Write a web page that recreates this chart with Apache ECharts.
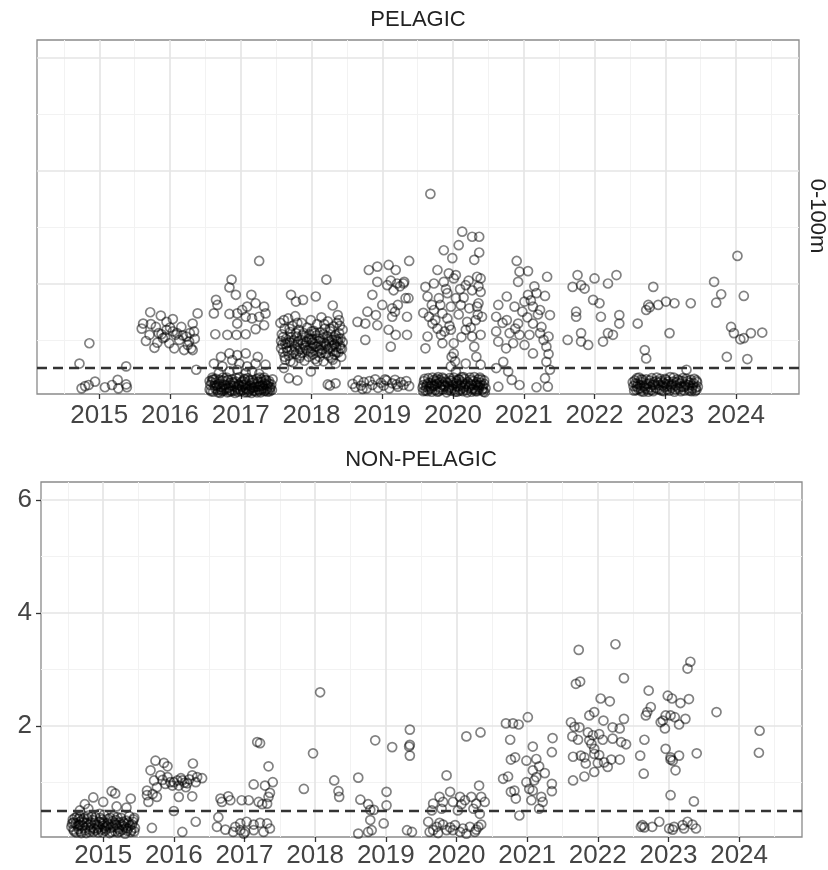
<!DOCTYPE html>
<html>
<head>
<meta charset="utf-8">
<script src="https://cdn.jsdelivr.net/npm/echarts@6/dist/echarts.min.js"></script>
<style>html,body{margin:0;padding:0;background:#fff}#c{width:828px;height:870px}</style>
</head>
<body>
<div id="c"></div>
<script>
// ---------- DATA ----------
const years = [2015, 2016, 2017, 2018, 2019, 2020, 2021, 2022, 2023, 2024];
const yTickLabels = [2, 4, 6];
const yGridValues = [1, 2, 3, 4, 5, 6];
const threshold = 0.5;
const panelTitles = ['PELAGIC', 'NON-PELAGIC'];
const stripLabel = '0-100m';

// Each point: [offset from year (jitter), value]
const pel2015 = [[-.14,.94],[-.28,.58],[.38,.53],[-.25,.14],[-.15,.20],[-.06,.26],[.08,.16],[.18,.20],[.26,.29],[.27,.14],[.39,.16],[.38,.21],[-.20,.18]];
const pel2016 = [[-.28,1.49],[-.13,1.43],[.04,1.37],[.39,1.47],[-.38,1.29],[-.27,1.28],[-.16,1.12],[-.05,1.18],[.04,1.15],[.16,1.23],[.32,1.29],[.34,1.15],[-.34,.98],[-.22,.86],[-.10,1.03],[-.01,.94],[.06,.85],[.20,.82],[.30,.85],[.37,.47],[-.20,1.23],[-.05,1.32],[.23,1.06],[.13,1.00],[-.29,1.09],[.08,1.09],[.25,.91],[.32,.82],[-.12,1.10],[-.07,1.05],[.10,1.12],[.18,1.08],[.28,1.12],[.35,1.02],[-.40,1.20],[-.18,.95],[0,1.22],[.27,.97]];
const pel2017 = [[.26,2.40],[-.13,2.07],[-.16,1.93],[-.07,1.80],[.15,1.80],[-.35,1.71],[-.33,1.62],[-.38,1.47],[-.16,1.46],[-.05,1.47],[.02,1.53],[.09,1.59],[.21,1.65],[.33,1.59],[.35,1.47],[.26,1.41],[.16,1.38],[.07,1.41],[-.05,1.29],[.33,1.26],[.21,1.19],[-.36,1.10],[-.19,1.09],[-.06,1.09],[.07,1.10],[-.28,.70],[-.16,.76],[-.05,.73],[.07,.76],[.24,.70],[-.38,.58],[-.26,.53],[-.12,.64],[-.02,.58],[.09,.53],[.21,.58],[.35,.56],[-.31,.41],[-.16,.44],[-.05,.47],[.07,.41],[.16,.44],[.26,.40],[-.40,.29],
[-.44,.12],[-.41,.25],[-.39,.08],[-.37,.19],[-.35,.31],[-.33,.11],[-.31,.22],[-.29,.06],[-.27,.16],[-.26,.28],[-.24,.10],[-.22,.20],[-.20,.33],[-.19,.07],[-.17,.15],[-.15,.24],[-.13,.09],[-.12,.30],[-.10,.18],[-.08,.06],[-.07,.26],[-.05,.13],[-.03,.21],[-.02,.34],[0,.09],[.02,.17],[.03,.27],[.05,.07],[.07,.14],[.08,.23],[.10,.32],[.12,.11],[.13,.19],[.15,.06],[.17,.28],[.18,.15],[.20,.09],[.22,.22],[.23,.31],[.25,.12],[.27,.18],[.28,.07],[.30,.25],[.32,.14],[.33,.33],[.35,.10],[.37,.20],[.38,.08],[.40,.27],[.42,.16],[.44,.11],[-.43,.20],[-.36,.14],[-.30,.29],[-.23,.13],[-.16,.08],[-.09,.23],[-.01,.12],[.06,.30],[.11,.08],[.19,.25],[.26,.10],[.34,.22],[.41,.13],[-.40,.33],[-.28,.12],[-.14,.19],[.04,.20],[.16,.16],[.29,.30],[.39,.18],[-.21,.27],[-.06,.16],[.09,.12],[.24,.17],[.36,.28],
[-.44,.27],[-.42,.09],[-.38,.30],[-.34,.19],[-.32,.07],[-.29,.17],[-.25,.33],[-.24,.21],[-.20,.14],[-.18,.29],[-.15,.11],[-.11,.25],[-.09,.10],[-.06,.32],[-.04,.08],[-.02,.19],[.01,.25],[.03,.11],[.05,.31],[.07,.20],[.09,.07],[.12,.28],[.14,.14],[.16,.24],[.18,.10],[.21,.17],[.23,.07],[.25,.26],[.27,.33],[.29,.12],[.31,.19],[.33,.09],[.35,.29],[.37,.13],[.39,.23],[.41,.09],[.43,.21],[.45,.30],[-.36,.24],[-.27,.09]];
const pel2018 = [[.21,2.07],[-.29,1.80],[-.22,1.68],[-.12,1.71],[.06,1.77],[.30,1.61],[.37,1.44],[.39,1.35],[-.39,1.35],[.34,.23],[.23,.21],[.26,.19],[-.32,.32],[-.20,.28],[-.39,.50],[-.01,.44],[.34,.58],
[-.44,1.30],[-.42,1.10],[-.41,.92],[-.40,.78],[-.38,1.20],[-.37,.65],[-.36,1.02],[-.35,.86],[-.33,1.38],[-.32,.72],[-.31,.96],[-.30,1.14],[-.28,.82],[-.27,1.25],[-.26,.60],[-.25,.99],[-.24,.88],[-.23,1.42],[-.22,.75],[-.21,1.06],[-.20,.92],[-.18,1.18],[-.17,.68],[-.16,.84],[-.15,1.00],[-.14,1.30],[-.13,.77],[-.12,.94],[-.11,1.12],[-.10,.63],[-.09,.86],[-.08,1.05],[-.07,.97],[-.06,1.22],[-.05,.80],[-.04,.70],[-.03,1.10],[-.02,.90],[-.01,1.35],[0,.85],[.01,1.02],[.02,.74],[.03,1.16],[.04,.93],[.05,.66],[.06,.88],[.07,1.08],[.08,1.28],[.09,.79],[.10,.98],[.11,.70],[.12,1.13],[.13,.90],[.14,1.40],[.15,.83],[.16,1.03],[.17,.62],[.18,.95],[.19,1.20],[.20,.76],[.21,.89],[.22,1.07],[.23,1.33],[.24,.72],[.25,.97],[.26,.85],[.27,1.15],[.28,.68],[.29,1.00],[.30,.80],[.31,1.24],[.32,.92],[.33,.74],[.34,1.08],[.35,.87],[.36,1.30],[.37,.97],[.38,.78],[.39,1.12],[.40,.90],[.41,1.02],[.42,.70],[.43,.84],[.44,1.18],[-.43,.98],[-.34,.95],[-.19,.80],[-.29,1.05],[0,1.00],[.12,.82],[.24,1.02],[.35,1.00],
[-.43,.85],[-.40,1.05],[-.37,.93],[-.34,.80],[-.31,1.20],[-.28,.95],[-.25,.78],[-.22,1.12],[-.19,.97],[-.16,.72],[-.13,1.08],[-.10,.90],[-.07,.82],[-.04,1.02],[-.01,.78],[.02,.95],[.05,1.12],[.08,.88],[.11,1.02],[.14,.77],[.17,1.10],[.20,.93],[.23,.84],[.26,1.20],[.29,.90],[.32,1.05],[.35,.78],[.38,1.02],[.41,.85],[.44,.96],[-.38,.70],[-.20,1.30],[0,1.15],[.18,1.28],[.40,1.25],[-.30,.62],[.08,.62],[.30,.65]];
const pel2019 = [[.38,2.40],[-.19,2.24],[-.07,2.30],[.09,2.33],[.19,2.24],[-.07,2.03],[.07,1.97],[.21,2.00],[.31,2.03],[-.14,1.80],[.16,1.88],[.33,1.74],[0,1.62],[.14,1.56],[-.21,1.50],[-.09,1.44],[-.35,1.32],[-.24,1.29],[-.07,1.26],[.09,1.18],[.35,1.41],[.19,1.09],[-.24,1.00],[.12,.88],[.14,1.41],[.30,2.00],[.37,1.74],[.35,1.09],[.18,1.50],[.22,1.62],[.25,1.95],[.12,2.05],
[-.42,.22],[-.38,.16],[-.34,.28],[-.30,.19],[-.26,.25],[-.22,.14],[-.18,.27],[-.14,.20],[-.10,.30],[-.06,.15],[-.02,.24],[.02,.19],[.06,.28],[.10,.14],[.14,.23],[.18,.29],[.22,.17],[.26,.25],[.30,.20],[.34,.27],[.38,.18],[.04,.30],[-.28,.13],[.20,.21]];
const pel2020 = [[-.32,3.59],[.13,2.92],[.27,2.83],[.37,2.83],[.08,2.68],[-.13,2.59],[-.01,2.45],[.30,2.42],[-.22,2.24],[-.06,2.18],[.04,2.15],[.34,2.12],[.39,2.09],[-.39,1.94],[-.27,2.0],[-.13,2.03],[.01,2.09],[.18,1.97],[.27,1.88],[.39,1.85],[-.36,1.77],[-.20,1.74],[-.08,1.83],[.04,1.74],[-.27,1.53],[-.15,1.47],[-.03,1.59],[.11,1.62],[.23,1.56],[.34,1.59],[-.34,1.41],[-.29,1.29],[-.08,1.38],[.20,1.32],[.32,1.35],[.41,1.41],[-.22,1.20],[-.03,1.18],[.18,1.18],[.39,1.09],[-.36,1.06],[-.17,1.09],[.27,1.06],[-.15,.94],[.01,.94],[-.39,.85],[.30,.88],[.01,.76],[.18,.58],[.39,.56],[-.03,.53],[.04,.44],[-.10,1.90],[-.18,1.62],[.08,1.45],[.15,1.75],[-.25,1.35],[.25,1.22],[.36,1.95],[.36,1.65],[-.05,1.25],[.12,1.05],[-.30,1.62],[.22,2.05],[-.12,1.15],[.35,1.45],[.10,1.90],[-.02,.70],[.03,.62],[-.42,1.48],[.33,.70],[.37,2.55],
[-.43,.15],[-.41,.27],[-.39,.10],[-.37,.21],[-.35,.32],[-.34,.13],[-.32,.24],[-.30,.08],[-.28,.18],[-.27,.29],[-.25,.11],[-.23,.22],[-.21,.34],[-.20,.09],[-.18,.16],[-.16,.26],[-.14,.12],[-.13,.31],[-.11,.19],[-.09,.07],[-.08,.24],[-.06,.14],[-.04,.28],[-.03,.10],[-.01,.20],[.01,.33],[.02,.12],[.04,.23],[.06,.08],[.07,.17],[.09,.29],[.11,.13],[.12,.22],[.14,.09],[.16,.31],[.17,.18],[.19,.11],[.21,.25],[.22,.15],[.24,.33],[.26,.08],[.27,.20],[.29,.27],[.31,.12],[.32,.21],[.34,.09],[.36,.30],[.37,.16],[.39,.24],[.41,.11],[.42,.19],[.44,.28],[.46,.14],[-.42,.20],[-.33,.17],[-.24,.27],[-.15,.20],[-.05,.17],[.05,.27],[.15,.15],[.25,.22],[.35,.19],[.43,.08],[-.36,.09],[-.19,.24],[-.02,.27],[.10,.19],[.28,.14],[.38,.33],
[-.42,.09],[-.40,.31],[-.38,.17],[-.35,.24],[-.31,.14],[-.29,.33],[-.26,.19],[-.22,.08],[-.19,.29],[-.17,.12],[-.15,.33],[-.12,.17],[-.10,.26],[-.07,.11],[-.05,.32],[-.02,.14],[0,.24],[.03,.08],[.05,.18],[.08,.30],[.10,.10],[.13,.25],[.15,.34],[.18,.22],[.20,.07],[.23,.18],[.25,.29],[.27,.12],[.30,.34],[.32,.09],[.34,.25],[.36,.12],[.38,.20],[.40,.30],[.42,.13],[.44,.22],[.45,.07],[-.30,.21],[.12,.34],[-.23,.31]];
const pel2021 = [[-.10,2.40],[-.06,2.21],[.06,2.22],[-.08,2.03],[.33,2.12],[-.24,1.77],[-.36,1.62],[-.13,1.59],[.06,1.80],[.18,1.83],[.30,1.78],[.01,1.68],[.13,1.59],[.23,1.53],[.37,1.44],[-.39,1.41],[-.24,1.35],[-.08,1.29],[.13,1.29],[.25,1.23],[-.39,1.15],[-.20,1.12],[-.06,1.09],[.08,1.09],[.23,1.12],[.35,1.06],[-.36,.97],[-.15,.94],[.01,.91],[.13,.76],[.32,.88],[-.29,.61],[-.22,.44],[.32,.61],[.37,.47],[-.39,.50],[-.17,.29],[-.06,.20],[-.36,.17],[.18,.16],[.34,.17],[.30,.32],[.10,1.70],[.20,1.45],[-.02,1.50],[.15,1.95],[-.30,1.30],[.28,1.00],[-.12,1.20],[.05,1.40],[.35,.75],[-.25,.85]];
const pel2022 = [[-.24,2.15],[0,2.09],[.31,2.15],[-.31,1.94],[-.19,1.97],[-.14,1.91],[.19,2.0],[-.02,1.71],[.07,1.65],[-.26,1.50],[-.26,1.41],[.09,1.41],[.35,1.44],[.35,1.29],[-.38,1.00],[-.19,1.12],[-.19,.97],[-.09,.91],[.12,.97],[.19,1.12],[.26,1.09]];
const pel2023 = [[-.17,1.94],[-.24,1.62],[-.27,1.53],[-.10,1.62],[.01,1.68],[.13,1.65],[.36,1.65],[-.39,1.29],[.06,1.12],[-.29,.82],[-.27,.67],[.30,.47],[-.22,1.58],
[-.45,.18],[-.43,.28],[-.41,.11],[-.39,.22],[-.37,.33],[-.35,.14],[-.33,.25],[-.31,.08],[-.29,.19],[-.27,.30],[-.25,.12],[-.23,.23],[-.21,.16],[-.19,.32],[-.17,.09],[-.15,.21],[-.13,.27],[-.11,.13],[-.09,.20],[-.07,.31],[-.05,.10],[-.03,.24],[-.01,.16],[.01,.29],[.03,.12],[.05,.22],[.07,.34],[.09,.15],[.11,.26],[.13,.08],[.15,.19],[.17,.30],[.19,.13],[.21,.23],[.23,.17],[.25,.32],[.27,.10],[.29,.21],[.31,.27],[.33,.14],[.35,.24],[.37,.09],[.39,.19],[.41,.31],[.43,.15],[.45,.25],[-.40,.17],[-.28,.14],[-.16,.25],[-.04,.19],[.08,.18],[.20,.28],[.32,.20],[.44,.11],[-.34,.30],[0,.22],[.26,.16],
[-.44,.10],[-.42,.23],[-.40,.32],[-.38,.13],[-.36,.20],[-.34,.09],[-.32,.29],[-.30,.17],[-.26,.22],[-.24,.08],[-.22,.28],[-.20,.11],[-.18,.20],[-.14,.15],[-.12,.33],[-.10,.24],[-.08,.12],[-.06,.27],[-.02,.09],[0,.31],[.02,.18],[.04,.26],[.06,.10],[.10,.21],[.12,.33],[.14,.12],[.16,.25],[.18,.16],[.22,.09],[.24,.27],[.28,.18],[.30,.31],[.34,.10],[.36,.29],[.38,.14],[.40,.23],[.42,.09],[.44,.28],[.46,.17],[-.46,.25]];
const pel2024 = [[.02,2.49],[-.31,2.03],[-.21,1.81],[-.28,1.66],[.11,1.78],[-.07,1.23],[-.03,1.12],[.06,1.01],[.11,1.03],[.21,1.12],[.37,1.13],[-.13,.70],[.16,.66]];

const np2015 = [[-.14,.74],[0,.66],[.12,.85],[.17,.81],[.39,.72],[-.26,.62],[-.33,.51],[.19,.58],[.33,.56],[-.21,.54],[-.05,.45],[-.35,.36],
[-.45,.22],[-.43,.35],[-.41,.14],[-.39,.28],[-.37,.40],[-.35,.18],[-.33,.31],[-.31,.11],[-.29,.24],[-.27,.37],[-.25,.16],[-.23,.29],[-.21,.42],[-.19,.13],[-.17,.21],[-.15,.34],[-.13,.19],[-.11,.39],[-.09,.26],[-.07,.12],[-.05,.31],[-.03,.17],[-.01,.27],[.01,.43],[.03,.15],[.05,.23],[.07,.36],[.09,.11],[.11,.20],[.13,.32],[.15,.41],[.17,.14],[.19,.25],[.21,.12],[.23,.30],[.25,.38],[.27,.17],[.29,.23],[.31,.10],[.33,.33],[.35,.19],[.37,.41],[.39,.13],[.41,.26],[.43,.35],[.45,.20],[-.42,.30],[-.34,.25],[-.26,.20],[-.18,.30],[-.10,.16],[-.02,.35],[.06,.28],[.14,.22],[.22,.18],[.30,.28],[.38,.24],[.44,.14],[-.38,.12],[-.22,.36],[-.06,.22],[.10,.38],[.26,.26],[.42,.31],[-.30,.34],[.02,.20],[.18,.34],[.34,.15],
[-.44,.28],[-.42,.17],[-.40,.38],[-.36,.23],[-.32,.14],[-.28,.30],[-.24,.11],[-.20,.25],[-.16,.40],[-.14,.13],[-.12,.29],[-.08,.19],[-.04,.38],[-.01,.12],[.01,.30],[.04,.18],[.08,.26],[.12,.13],[.16,.29],[.20,.39],[.24,.14],[.28,.31],[.32,.20],[.36,.30],[.40,.16],[.44,.38],[-.33,.40],[0,.24],[.20,.21],[-.18,.17]];
const np2016 = [[-.26,1.39],[-.14,1.35],[-.09,1.29],[.27,1.34],[-.33,1.22],[-.19,1.13],[-.09,1.10],[0,1.01],[.12,1.04],[.26,1.13],[.40,1.08],[-.28,1.04],[-.12,.98],[.07,.95],[.19,.99],[.31,1.01],[-.38,.86],[-.38,.78],[-.24,.75],[.07,.75],[.26,.76],[-.36,.66],[0,.50],[.31,.31],[-.31,.20],[.12,.13],[-.05,1.01],[.05,1.04],[.17,.92],[-.24,.92],[-.16,1.05],[.22,1.06],[.33,1.10],[-.02,.95],[.10,1.08],[-.30,.80],[.15,1.00]];
const np2017 = [[.18,1.72],[.22,1.70],[.34,1.29],[.13,.97],[.29,.95],[.40,1.01],[.36,.82],[.34,.75],[-.34,.72],[-.23,.76],[-.20,.69],[-.32,.66],[-.04,.69],[.06,.69],[.20,.66],[.25,.62],[.32,.63],[-.37,.39],[-.39,.22],[-.27,.17],[-.13,.22],[-.06,.28],[.03,.31],[-.06,.16],[.01,.13],[.13,.26],[.22,.29],[.32,.28],[.36,.19],[.27,.13],[.13,.16],[-.16,.13],[-.01,.10]];
const np2018 = [[.07,2.60],[-.03,1.52],[-.16,.89],[.27,1.04],[.33,.85],[.34,.75]];
const np2019 = [[.34,1.94],[.34,1.67],[.33,1.64],[.34,1.48],[-.15,1.75],[.09,1.63],[-.39,1.09],[.01,.84],[-.36,.70],[-.25,.62],[-.17,.52],[.01,.60],[-.22,.34],[-.03,.28],[-.39,.10],[-.25,.13],[-.20,.16],[.30,.16],[.37,.13],[-.22,.52]];
const np2020 = [[-.14,1.13],[.14,1.82],[.34,1.89],[.32,.95],[-.24,.75],[-.09,.84],[.05,.75],[.12,.69],[.21,.75],[.35,.75],[-.33,.63],[-.19,.66],[-.05,.66],[.07,.62],[.28,.63],[.40,.66],[-.35,.51],[-.21,.54],[.02,.51],[.24,.54],[-.40,.31],[-.28,.22],[-.19,.26],[-.09,.21],[-.02,.25],[.09,.19],[.19,.22],[.28,.17],[.35,.26],[-.33,.16],[.26,.13],[.05,.13],[-.14,.16],[-.38,.13],[-.26,.11],[.14,.10],[.31,.22],[-.24,.29],[-.05,.16],[.33,.45]];
const np2021 = [[-.30,2.05],[-.20,2.05],[-.12,2.03],[.01,2.16],[-.24,1.76],[.08,1.64],[.36,1.79],[.35,1.54],[-.23,1.41],[-.17,1.45],[-.01,1.39],[.13,1.42],[.17,1.29],[.25,1.17],[.08,1.22],[-.34,1.07],[-.27,1.11],[-.01,1.01],[.10,1.04],[.03,.89],[.08,.86],[-.23,.84],[-.18,.86],[-.16,.72],[.06,.69],[.20,.75],[.22,.66],[.17,.54],[.35,.98],[.35,.85],[-.11,.42],[.13,1.10]];
const np2022 = [[-.27,3.35],[.25,3.45],[.37,2.85],[-.31,2.75],[-.25,2.79],[.04,2.49],[.17,2.44],[-.12,2.19],[-.05,2.25],[.08,2.10],[.37,2.13],[-.38,2.07],[-.33,1.99],[-.26,1.98],[.21,1.98],[.31,1.96],[-.14,1.89],[-.07,1.84],[.02,1.86],[-.36,1.82],[-.28,1.76],[-.12,1.75],[.07,1.76],[.21,1.78],[.33,1.72],[.40,1.68],[-.09,1.69],[-.05,1.60],[-.35,1.46],[-.24,1.48],[-.19,1.45],[-.05,1.51],[0,1.35],[.09,1.36],[.19,1.41],[.31,1.41],[.02,1.49],[-.17,1.34],[.14,1.28],[-.35,1.04],[-.19,1.11],[-.05,1.19]];
const np2023 = [[.31,3.14],[.27,3.02],[-.28,2.63],[-.01,2.54],[.05,2.49],[.17,2.41],[.29,2.48],[-.25,2.34],[-.30,2.25],[-.32,2.19],[-.04,2.19],[.03,2.19],[.09,2.16],[.24,2.13],[-.08,2.10],[-.11,2.07],[.15,2.03],[-.05,1.96],[-.34,1.76],[-.40,1.48],[-.04,1.60],[.03,1.45],[.15,1.48],[.03,1.41],[.06,1.39],[.10,1.22],[.40,1.52],[-.35,1.16],[.03,.78],[.36,.67],
[-.37,.25],[-.34,.21],[-.23,.22],[-.13,.31],[.01,.19],[.08,.22],[.20,.25],[.27,.31],[.34,.26],[.39,.19],[.22,.19],[.06,.17],[-.39,.22]];
const np2024 = [[.29,1.92],[.28,1.53],[-.32,2.25]];

const pelagicGroups = [pel2015, pel2016, pel2017, pel2018, pel2019, pel2020, pel2021, pel2022, pel2023, pel2024];
const nonPelagicGroups = [np2015, np2016, np2017, np2018, np2019, np2020, np2021, np2022, np2023, np2024];

// ---------- BUILD ----------
function toPoints(groups) {
  const out = [];
  groups.forEach((g, i) => g.forEach(p => out.push([years[i] + p[0], p[1]])));
  return out;
}

const FONT = 'Liberation Sans, Arial, Helvetica, sans-serif';
const xRange = [2014.12, 2024.89];
const yRange = [0.04, 6.32];

const majorX = years;
const minorX = years.map(y => y - 0.5).concat([years[years.length - 1] + 0.5]);
const majorY = yGridValues.filter(v => v % 2 === 0);
const minorY = yGridValues.filter(v => v % 2 !== 0);

function gridLines() {
  const d = [];
  minorX.forEach(v => d.push({ xAxis: v, lineStyle: { color: '#f2f2f2', width: 1, type: 'solid' } }));
  minorY.forEach(v => d.push({ yAxis: v, lineStyle: { color: '#f2f2f2', width: 1, type: 'solid' } }));
  majorX.forEach(v => d.push({ xAxis: v, lineStyle: { color: '#e4e4e4', width: 1.6, type: 'solid' } }));
  majorY.forEach(v => d.push({ yAxis: v, lineStyle: { color: '#e4e4e4', width: 1.6, type: 'solid' } }));
  return d;
}

function panelSeries(idx, data) {
  return [
    {
      type: 'scatter', xAxisIndex: idx, yAxisIndex: idx, data: [], z: 1, silent: true,
      markLine: { z: 1, silent: true, symbol: ['none', 'none'], label: { show: false }, animation: false, data: gridLines() }
    },
    {
      type: 'scatter', xAxisIndex: idx, yAxisIndex: idx, data: data, z: 3, silent: true,
      symbol: 'circle', symbolSize: 9, large: false,
      itemStyle: { color: 'rgba(0,0,0,0)', borderColor: 'rgba(0,0,0,0.62)', borderWidth: 1.7 }
    },
    {
      type: 'scatter', xAxisIndex: idx, yAxisIndex: idx, data: [], z: 6, silent: true,
      markLine: {
        z: 6, silent: true, symbol: ['none', 'none'], label: { show: false }, animation: false,
        data: [{ yAxis: threshold }],
        lineStyle: { color: '#333', width: 2.4, type: [10, 6] }
      }
    }
  ];
}

function xAxisCfg(idx, margin) {
  return {
    type: 'value', gridIndex: idx, min: xRange[0], max: xRange[1],
    axisLine: { show: false },
    axisTick: { show: true, customValues: years, length: 5, lineStyle: { color: '#333', width: 1.3 } },
    axisLabel: { show: true, customValues: years, formatter: v => String(Math.round(v)), fontSize: 26, fontFamily: FONT, color: '#444', margin: margin, lineHeight: 27 },
    splitLine: { show: false }
  };
}

const chart = echarts.init(document.getElementById('c'), null, { renderer: 'canvas' });
chart.setOption({
  animation: false,
  backgroundColor: '#fff',
  grid: [
    { left: 37, top: 40, width: 762, height: 354, show: true, borderColor: '#8a8a8a', borderWidth: 1.3, backgroundColor: '#fff' },
    { left: 41, top: 482, width: 761, height: 355, show: true, borderColor: '#8a8a8a', borderWidth: 1.3, backgroundColor: '#fff' }
  ],
  xAxis: [xAxisCfg(0, 8), xAxisCfg(1, 5)],
  yAxis: [
    { type: 'value', gridIndex: 0, min: yRange[0], max: yRange[1], axisLine: { show: false }, axisTick: { show: false }, axisLabel: { show: false }, splitLine: { show: false } },
    {
      type: 'value', gridIndex: 1, min: yRange[0], max: yRange[1], axisLine: { show: false },
      axisTick: { show: true, customValues: yTickLabels, length: 5, lineStyle: { color: '#333', width: 1.3 } },
      axisLabel: { show: true, customValues: yTickLabels, formatter: v => String(Math.round(v)), fontSize: 26, fontFamily: FONT, color: '#444', margin: 9 },
      splitLine: { show: false }
    }
  ],
  graphic: [
    { type: 'text', x: 418, y: 20, style: { text: panelTitles[0], font: '22px ' + FONT, fill: '#222', textAlign: 'center', textVerticalAlign: 'middle' } },
    { type: 'text', x: 421, y: 460, style: { text: panelTitles[1], font: '22px ' + FONT, fill: '#222', textAlign: 'center', textVerticalAlign: 'middle' } },
    { type: 'text', x: 817, y: 216, rotation: -Math.PI / 2, style: { text: stripLabel, font: '22px ' + FONT, fill: '#222', textAlign: 'center', textVerticalAlign: 'middle' } }
  ],
  series: panelSeries(0, toPoints(pelagicGroups)).concat(panelSeries(1, toPoints(nonPelagicGroups)))
});
</script>
</body>
</html>
